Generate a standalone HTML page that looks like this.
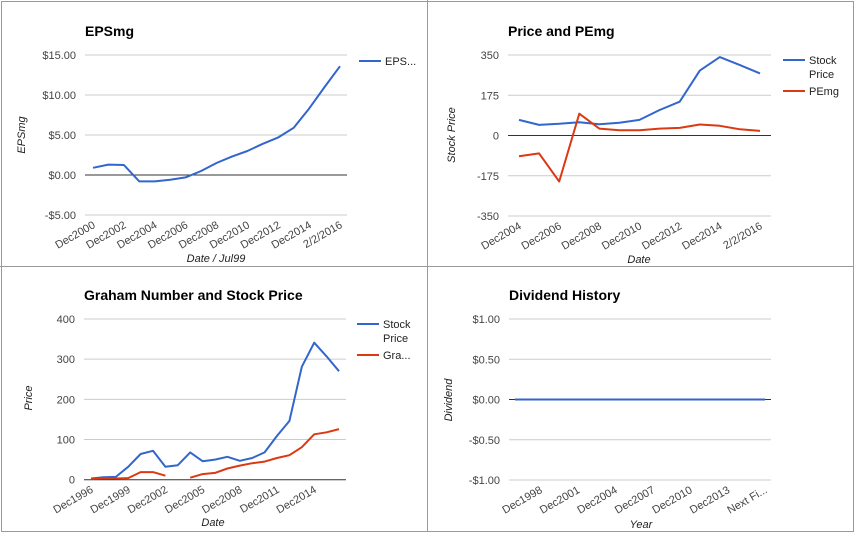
<!DOCTYPE html>
<html><head><meta charset="utf-8"><style>
body{margin:0;background:#fff;}
svg{display:block;font-family:"Liberation Sans",Arial,sans-serif;}
.t{font-size:14px;font-weight:bold;fill:#000;}
.tk{font-size:11px;fill:#444;}
.at{font-size:11px;fill:#222;font-style:italic;}
.lg{font-size:11px;fill:#222;}
</style></head><body>
<svg id="s" width="856" height="535" viewBox="0 0 856 535">
<rect x="1.5" y="1.5" width="852" height="530" fill="none" stroke="#9a9a9a"/>
<line x1="427.5" y1="0" x2="427.5" y2="532" stroke="#9a9a9a"/>
<line x1="0" y1="266.5" x2="854" y2="266.5" stroke="#9a9a9a"/>
</svg>
<script>
// ---- Chart 1: EPSmg ----
const epsCategories=["Dec2000","Dec2001","Dec2002","Dec2003","Dec2004","Dec2005","Dec2006","Dec2007","Dec2008","Dec2009","Dec2010","Dec2011","Dec2012","Dec2013","Dec2014","Dec2015","2/2/2016"];
const epsValues=[0.9,1.3,1.25,-0.8,-0.8,-0.6,-0.3,0.5,1.5,2.3,3.0,3.9,4.7,5.9,8.3,11.0,13.6];
const epsTicks=[15,10,5,0,-5];
const epsTickLabels=["$15.00","$10.00","$5.00","$0.00","-$5.00"];
// ---- Chart 2: Price and PEmg ----
const pCategories=["Dec2004","Dec2005","Dec2006","Dec2007","Dec2008","Dec2009","Dec2010","Dec2011","Dec2012","Dec2013","Dec2014","Dec2015","2/2/2016"];
const pStock=[68,46,51,58,49,55,68,111,147,282,341,306,270];
const pPEmg=[-90,-78,-200,95,30,23,23,30,33,48,42,27,20];
const pTicks=[350,175,0,-175,-350];
const pTickLabels=["350","175","0","-175","-350"];
// ---- Chart 3: Graham Number ----
const gCategories=["Dec1996","Dec1997","Dec1998","Dec1999","Dec2000","Dec2001","Dec2002","Dec2003","Dec2004","Dec2005","Dec2006","Dec2007","Dec2008","Dec2009","Dec2010","Dec2011","Dec2012","Dec2013","Dec2014","Dec2015","2016"];
const gStock=[3,6,7,32,64,72,32,36,68,46,50,57,47,54,68,109,146,281,341,307,270];
const gGraham=[2,3,3,4,19,19,10,null,5,14,17,28,35,41,45,54,61,81,113,118,126];
const gTicks=[400,300,200,100,0];
const gTickLabels=["400","300","200","100","0"];
// ---- Chart 4: Dividend ----
const dCategories=["Dec1996","Dec1997","Dec1998","Dec1999","Dec2000","Dec2001","Dec2002","Dec2003","Dec2004","Dec2005","Dec2006","Dec2007","Dec2008","Dec2009","Dec2010","Dec2011","Dec2012","Dec2013","Dec2014","Dec2015","Next Fi..."];
const dValues=[0,0,0,0,0,0,0,0,0,0,0,0,0,0,0,0,0,0,0,0,0];
const dTicks=[1,0.5,0,-0.5,-1];
const dTickLabels=["$1.00","$0.50","$0.00","-$0.50","-$1.00"];

const NS="http://www.w3.org/2000/svg";
const svg=document.getElementById('s');
function mk(tag,attrs,parent){const e=document.createElementNS(NS,tag);for(const k in attrs)e.setAttribute(k,attrs[k]);(parent||svg).appendChild(e);return e;}

function chart(o){
  const g=mk('g',{});
  
  
  const y=v=>o.y0+(o.vmax-v)/(o.vmax-o.vmin)*(o.y1-o.y0);
  const n=o.cats.length;
  const x=i=>o.xa+i*(o.xb-o.xa)/(n-1);
  const t=mk('text',{x:o.tx,y:o.ty,class:'t'},g);t.textContent=o.title;
  
  
  o.ticks.forEach((v,i)=>{
    const l=mk('line',{x1:o.gx0,x2:o.gx1,y1:y(v),y2:y(v),stroke:v===0?'#333':'#ccc','stroke-width':1},g);
    
    
    const tt=mk('text',{x:o.gx0-9,y:y(v)+4,'text-anchor':'end',class:'tk'},g);tt.textContent=o.tickLabels[i];
    
    
  });
  o.cats.forEach((c,i)=>{
    if(i%o.every!==o.off)return;
    const px=x(i)+3,py=o.y1+12;
    const tt=mk('text',{x:px,y:py,'text-anchor':'end',class:'tk',transform:`rotate(-30 ${px} ${py})`},g);tt.textContent=c;
    
    
  });
  o.series.forEach(s=>{
    let d='',pen=false;
    s.vals.forEach((v,i)=>{if(v===null){pen=false;return;}d+=(pen?'L':'M')+x(i).toFixed(1)+' '+y(v).toFixed(1);pen=true;});
    const p=mk('path',{d:d,fill:'none',stroke:s.color,'stroke-width':2,'stroke-linejoin':'round'},g);
    
    
  });
  const ay=mk('text',{x:o.ayx,y:o.ayy,'text-anchor':'middle',class:'at',transform:`rotate(-90 ${o.ayx} ${o.ayy})`},g);ay.textContent=o.ytitle;
  
  
  const ax=mk('text',{x:o.axx,y:o.axy,'text-anchor':'middle',class:'at'},g);ax.textContent=o.xtitle;
  
  
  o.legend.forEach(L=>{
    const ll=mk('line',{x1:L.x,x2:L.x+22,y1:L.y,y2:L.y,stroke:L.color,'stroke-width':2},g);
    
    
    L.lines.forEach((s,k)=>{
      const lt=mk('text',{x:L.x+26,y:L.y+4+k*14,class:'lg'},g);lt.textContent=s;
      
      
    });
  });
}
const B='#3366cc',R='#dc3912';
chart({name:'epsmg-chart',title:'EPSmg',tx:85,ty:36,cats:epsCategories,xa:93,xb:340,y0:55,y1:215,vmax:15,vmin:-5,ticks:epsTicks,tickLabels:epsTickLabels,gx0:85,gx1:347,every:2,off:0,
 series:[{vals:epsValues,color:B,name:'eps-line'}],ytitle:'EPSmg',ayx:25,ayy:135,xtitle:'Date / Jul99',axx:216,axy:262,
 legend:[{x:359,y:61,color:B,lines:['EPS...']}]});
chart({name:'price-pemg-chart',title:'Price and PEmg',tx:508,ty:36,cats:pCategories,xa:519,xb:760,y0:55,y1:216,vmax:350,vmin:-350,ticks:pTicks,tickLabels:pTickLabels,gx0:508,gx1:771,every:2,off:0,
 series:[{vals:pStock,color:B,name:'stock-price-line'},{vals:pPEmg,color:R,name:'pemg-line'}],ytitle:'Stock Price',ayx:455,ayy:135,xtitle:'Date',axx:639,axy:263,
 legend:[{x:783,y:60,color:B,lines:['Stock','Price']},{x:783,y:91,color:R,lines:['PEmg']}]});
chart({name:'graham-chart',title:'Graham Number and Stock Price',tx:84,ty:300,cats:gCategories,xa:91,xb:339,y0:319,y1:479.7,vmax:400,vmin:0,ticks:gTicks,tickLabels:gTickLabels,gx0:84,gx1:346,every:3,off:0,
 series:[{vals:gStock,color:B,name:'stock-price-line'},{vals:gGraham,color:R,name:'graham-number-line'}],ytitle:'Price',ayx:32,ayy:398,xtitle:'Date',axx:213,axy:526,
 legend:[{x:357,y:324,color:B,lines:['Stock','Price']},{x:357,y:355,color:R,lines:['Gra...']}]});
chart({name:'dividend-chart',title:'Dividend History',tx:509,ty:300,cats:dCategories,xa:515,xb:765,y0:319,y1:480,vmax:1,vmin:-1,ticks:dTicks,tickLabels:dTickLabels,gx0:509,gx1:771,every:3,off:2,
 series:[{vals:dValues,color:B,name:'dividend-line'}],ytitle:'Dividend',ayx:452,ayy:400,xtitle:'Year',axx:641,axy:528,
 legend:[]});
</script>
</body></html>
